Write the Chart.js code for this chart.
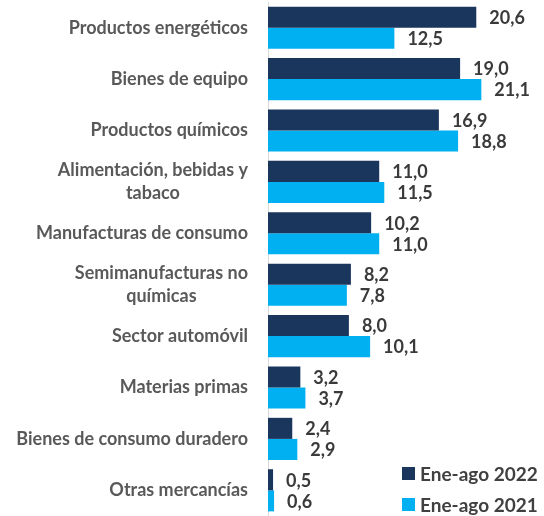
<!DOCTYPE html>
<html>
<head>
<meta charset="utf-8">
<script src="https://cdn.jsdelivr.net/npm/chart.js@4"></script>
<style>
  body { margin: 0; background: #fff; }
  #wrap { width: 544px; height: 516px; }
</style>
</head>
<body>
<div id="wrap"><canvas id="grafico"></canvas></div>
<script>
// datos
const categorias = [
    ['Productos energéticos'],
    ['Bienes de equipo'],
    ['Productos químicos'],
    ['Alimentación, bebidas y', 'tabaco'],
    ['Manufacturas de consumo'],
    ['Semimanufacturas no', 'químicas'],
    ['Sector automóvil'],
    ['Materias primas'],
    ['Bienes de consumo duradero'],
    ['Otras mercancías']
]
const serie2022 = [20.6, 19.0, 16.9, 11.0, 10.2, 8.2, 8.0, 3.2, 2.4, 0.5]
const serie2021 = [12.5, 21.1, 18.8, 11.5, 11.0, 7.8, 10.1, 3.7, 2.9, 0.6]
const nombres = ['Ene-ago 2022', 'Ene-ago 2021']
const colores = ['#1b365d', '#00b0f0']

const fuente = 'Lato, "Open Sans", sans-serif'

// etiquetas del eje, valores y leyenda
const dibujos = {
    id: 'dibujos',
    afterDraw(chart) {
        const c = chart.ctx
        const y = chart.scales.y
        c.save()
        // nombres de categorias
        c.font = 'bold 18px ' + fuente
        c.fillStyle = '#595959'
        c.textBaseline = 'middle'
        categorias.forEach((lineas, i) => {
            const cy = y.getPixelForValue(i)
            const alto = 23
            const anchos = lineas.map(t => c.measureText(t).width)
            const maxAncho = Math.max(...anchos)
            const derecha = y.right - 20
            lineas.forEach((t, k) => {
                const ly = cy + (k - (lineas.length - 1) / 2) * alto
                c.textAlign = 'center'
                c.fillText(t, derecha - maxAncho / 2, ly)
            })
        })
        // valores
        c.font = 'bold 18px ' + fuente
        c.fillStyle = '#3a3a3a'
        c.textAlign = 'left'
        chart.data.datasets.forEach((ds, d) => {
            chart.getDatasetMeta(d).data.forEach((bar, i) => {
                c.fillText(ds.data[i].toFixed(1).replace('.', ','), bar.x + 13, bar.y + 1)
            })
        })
        // leyenda
        c.font = 'bold 19px ' + fuente
        nombres.forEach((n, i) => {
            const ly = 474 + i * 31
            c.fillStyle = colores[i]
            c.fillRect(402, ly - 7, 13, 13)
            c.fillStyle = '#404040'
            c.fillText(n, 420, ly + 1)
        })
        c.restore()
    }
}

new Chart(document.getElementById('grafico'), {
    type: 'bar',
    data: {
        labels: categorias,
        datasets: [
            { label: nombres[0], data: serie2022, backgroundColor: colores[0] },
            { label: nombres[1], data: serie2021, backgroundColor: colores[1] }
        ]
    },
    options: {
        indexAxis: 'y',
        responsive: true,
        maintainAspectRatio: false,
        animation: false,
        layout: { padding: { top: 2, right: 3, bottom: 0, left: 0 } },
        datasets: { bar: { categoryPercentage: 0.82, barPercentage: 1 } },
        plugins: { legend: { display: false }, tooltip: { enabled: false } },
        scales: {
            x: { min: 0, max: 27, display: false },
            y: {
                grid: { display: false },
                border: { display: true, color: '#d9d9d9', width: 1 },
                ticks: { display: false },
                afterFit: s => { s.width = 268 }
            }
        }
    },
    plugins: [dibujos]
})
</script>
</body>
</html>
